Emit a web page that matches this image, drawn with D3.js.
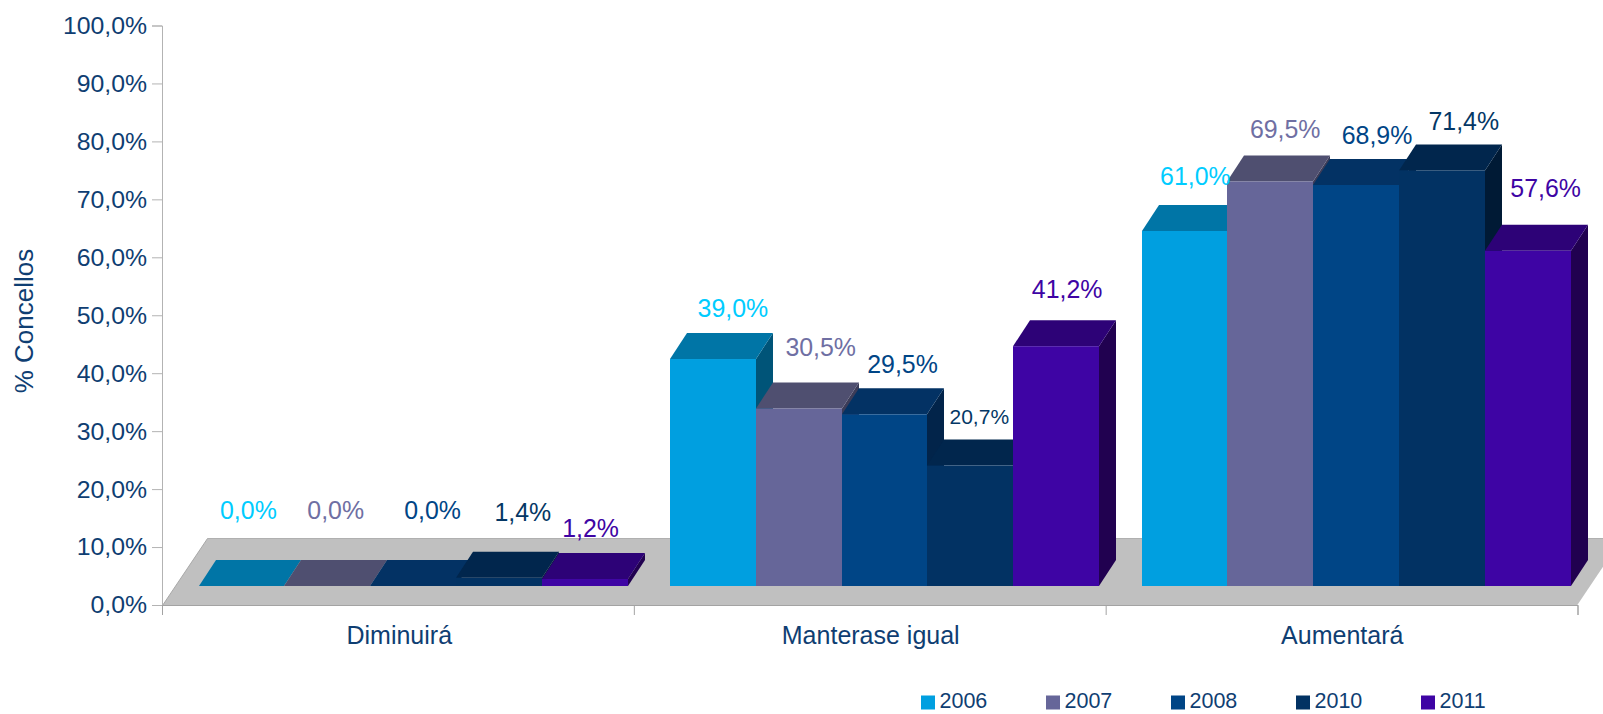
<!DOCTYPE html>
<html>
<head>
<meta charset="utf-8">
<script src="https://cdn.jsdelivr.net/npm/d3@7"></script>
<style>
  html, body { margin: 0; padding: 0; background: #fff; overflow: hidden; }
  text { font-family: "Liberation Sans", Arial, sans-serif; }
</style>
</head>
<body>
<div id="chart"></div>
<script>
// values
const categories = ["Diminuirá", "Manterase igual", "Aumentará"];
const years = ["2006", "2007", "2008", "2010", "2011"];
const values2006 = [0.0, 39.0, 61.0];
const values2007 = [0.0, 30.5, 69.5];
const values2008 = [0.0, 29.5, 68.9];
const values2010 = [1.4, 20.7, 71.4];
const values2011 = [1.2, 41.2, 57.6];
const yTicks = [0, 10, 20, 30, 40, 50, 60, 70, 80, 90, 100];

const seriesValues = [values2006, values2007, values2008, values2010, values2011];

const W = 1603, H = 714;

// front, top, side, label colour for each year
const colors = [
  { front: "#009fe0", top: "#0075a6", side: "#005478", label: "#00ccff" },
  { front: "#666699", top: "#4f4f70", side: "#3c3c58", label: "#6f6fa3" },
  { front: "#004586", top: "#033264", side: "#02244a", label: "#004586" },
  { front: "#023263", top: "#01264d", side: "#001a35", label: "#043765" },
  { front: "#3e04a4", top: "#2d0277", side: "#210150", label: "#3e04a4" },
];

// the labels were placed by hand in the original, offsets from the front top centre of the bar
const labelDx = [
  [7, 20, 11],
  [8.5, 22, 15],
  [19.5, 18, 21],
  [24, 9, 22],
  [6, 11, 18],
];
const labelDy = [
  [-67, -42, -46],
  [-67, -52, -44],
  [-67, -41, -41],
  [-57, -42, -40],
  [-42, -48, -54],
];

const axisColor = "#b3b3b3";
const textColor = "#0f3e72";

const svg = d3
  .select("#chart")
  .append("svg")
  .attr("width", W)
  .attr("height", H);

// scales
const x0 = d3.scaleBand().domain(categories).range([162.5, 1577]);
const x1 = d3.scaleBand().domain(years).range([36, 465]);
const y = d3.scaleLinear().domain([0, 100]).range([605, 25.5]);
// bars sit further back on the floor so they have their own base line
const barY = d3.scaleLinear().domain([0, 100]).range([586, 4]);

const depthX = 17, depthY = 26;

// floor of the 3d box
svg
  .append("polygon")
  .attr("points", "162.5,605.5 1577,605.5 1622,538.5 207.5,538.5")
  .attr("fill", "#c0c0c0");
svg
  .append("path")
  .attr("d", "M207.5,538.5H1603")
  .attr("stroke", "#b0b0b0")
  .attr("fill", "none");
svg
  .append("path")
  .attr("d", "M162.5,605.5L207.5,538.5")
  .attr("stroke", "#a8a8a8")
  .attr("fill", "none");

// Y axis
const yAxis = svg
  .append("g")
  .attr("transform", "translate(162,0)")
  .call(
    d3
      .axisLeft(y)
      .tickValues(yTicks)
      .tickSize(10)
      .tickPadding(5)
      .tickFormat((d) => d3.format(".1f")(d).replace(".", ",") + "%")
  );
yAxis.selectAll("path, line").attr("stroke", axisColor);
yAxis
  .selectAll("text")
  .attr("fill", textColor)
  .attr("font-size", 24.8)
  .attr("font-family", '"Liberation Sans", Arial, sans-serif');

// X axis, ticks sit between the categories
const xLine = d3.scaleLinear().domain([0, categories.length]).range([162, 1577.5]);
const xAxis = svg
  .append("g")
  .attr("transform", "translate(0,605)")
  .call(d3.axisBottom(xLine).tickValues(d3.range(categories.length + 1)).tickSize(10).tickFormat(""));
xAxis.selectAll("path, line").attr("stroke", "#a3a3a3");

// category labels
svg
  .selectAll(".cat")
  .data(categories)
  .enter()
  .append("text")
  .attr("class", "cat")
  .attr("x", (d) => x0(d) + x0.bandwidth() / 2 + 1)
  .attr("y", 644)
  .attr("text-anchor", "middle")
  .attr("font-size", 25)
  .attr("fill", textColor)
  .text((d) => d);

// axis title
svg
  .append("text")
  .attr("transform", "translate(33,321) rotate(-90)")
  .attr("text-anchor", "middle")
  .attr("font-size", 26)
  .attr("fill", textColor)
  .text("% Concellos");

// bars, painted left to right so each one covers the side of the previous
categories.forEach((cat, c) => {
  const g = svg.append("g").attr("class", "group");
  years.forEach((year, s) => {
    const v = seriesValues[s][c];
    // whole pixels so no seams show between the bars
    const left = Math.round(x0(cat) + x1(year));
    const right = Math.round(x0(cat) + x1(year) + x1.bandwidth());
    const top = barY(v);
    const base = barY(0);
    const col = colors[s];

    // side face
    g.append("polygon")
      .attr(
        "points",
        [
          [right, top],
          [right + depthX, top - depthY],
          [right + depthX, base - depthY],
          [right, base],
        ].join(" ")
      )
      .attr("fill", col.side);

    // top face
    g.append("polygon")
      .attr(
        "points",
        [
          [left, top],
          [left + depthX, top - depthY],
          [right + depthX, top - depthY],
          [right, top],
        ].join(" ")
      )
      .attr("fill", col.top);

    // front face
    g.append("rect")
      .attr("x", left)
      .attr("y", top)
      .attr("width", right - left)
      .attr("height", base - top)
      .attr("fill", col.front);
  });
});

// data labels go on top of everything
categories.forEach((cat, c) => {
  years.forEach((year, s) => {
    const v = seriesValues[s][c];
    svg
      .append("text")
      .attr("class", "value")
      .attr("x", x0(cat) + x1(year) + x1.bandwidth() / 2 + labelDx[s][c])
      .attr("y", barY(v) + labelDy[s][c])
      .attr("text-anchor", "middle")
      .attr("font-size", v === 20.7 ? 21 : 24.9) // this one was shrunk in the original
      .attr("fill", colors[s].label)
      .text(d3.format(".1f")(v).replace(".", ",") + "%");
  });
});

// legend
const legendX = d3.scalePoint().domain(years).range([921, 1421]);
const legend = svg
  .selectAll(".legend")
  .data(years)
  .enter()
  .append("g")
  .attr("class", "legend")
  .attr("transform", (d) => "translate(" + legendX(d) + ",695.5)");
legend
  .append("rect")
  .attr("width", 14)
  .attr("height", 14)
  .attr("fill", (d, i) => colors[i].front);
legend
  .append("text")
  .attr("x", 18.5)
  .attr("y", 12)
  .attr("font-size", 21.5)
  .attr("fill", textColor)
  .text((d) => d);
</script>
</body>
</html>
